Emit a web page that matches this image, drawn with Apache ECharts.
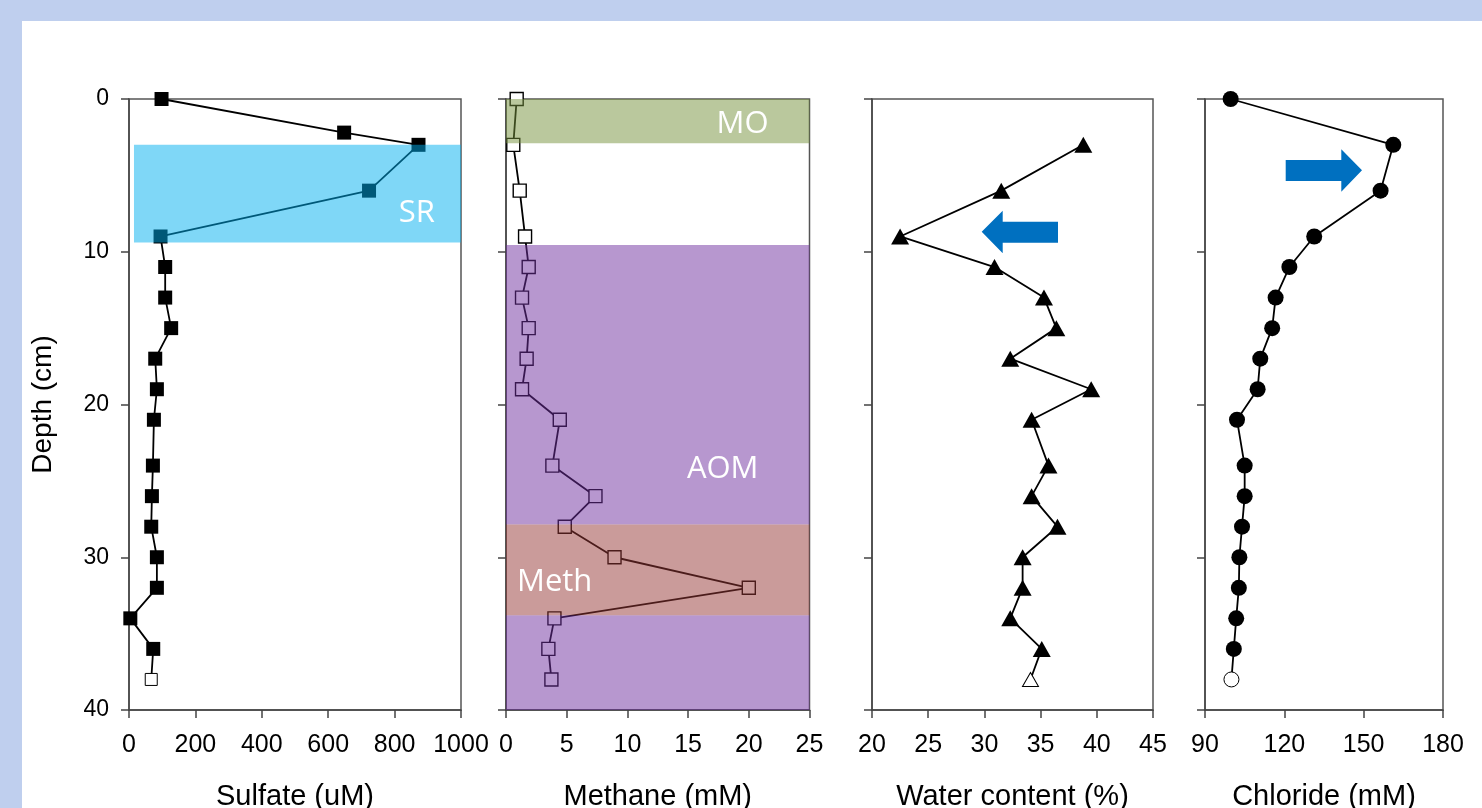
<!DOCTYPE html>
<html>
	<head>
		<meta charset="utf-8">
		<title>Depth profiles</title>
		<script src="https://cdn.jsdelivr.net/npm/echarts@6/dist/echarts.min.js"></script>
		<style>
			body { margin: 0; background: #bfcfee; width: 1482px; height: 808px; overflow: hidden; }
			#main { position: absolute; left: 22px; top: 21px; width: 1460px; height: 787px; background: #fff; }
		</style>
	</head>
	<body>
		<div id="main"></div>
		<script type="text/javascript">
			// depth (cm) of each sample
			var depthSulfate = [0, 2.2, 3, 6, 9, 11, 13, 15, 17, 19, 21, 24, 26, 28, 30, 32, 34, 36, 38];
			var sulfate = [98, 648, 872, 723, 95, 109, 109, 127, 79, 84, 75, 72, 69, 67, 84, 84, 4, 73, 67];

			var depth = [0, 3, 6, 9, 11, 13, 15, 17, 19, 21, 24, 26, 28, 30, 32, 34, 36, 38];
			var methane = [0.88, 0.6, 1.13, 1.57, 1.87, 1.32, 1.87, 1.7, 1.32, 4.43, 3.82, 7.37, 4.84, 8.94, 20.0, 3.99, 3.49, 3.74];
			var chloride = [99.7, 161.2, 156.4, 131.3, 121.9, 116.7, 115.4, 110.9, 109.9, 102.1, 105, 105, 104, 103, 102.8, 101.8, 100.9, 100];

			var depthWater = [3, 6, 9, 11, 13, 15, 17, 19, 21, 24, 26, 28, 30, 32, 34, 36, 38];
			var water = [38.8, 31.5, 22.5, 30.9, 35.3, 36.4, 32.3, 39.5, 34.2, 35.7, 34.2, 36.5, 33.4, 33.4, 32.3, 35.1, 34.1];

			// axis ranges: [min, max, interval]
			var xRanges = [[0, 1000, 200], [0, 25, 5], [20, 45, 5], [90, 180, 30]];
			var xNames = ['Sulfate (uM)', 'Methane (mM)', 'Water content (%)', 'Chloride (mM)'];

			// zones: [panel, name, xFrom, xTo, depthFrom, depthTo, colour]
			var zones = [
				[0, 'SR', 15, 1000, 3, 9.4, '#00b0f0'],
				[1, 'MO', 0, 25, 0, 2.9, '#76923c'],
				[1, 'AOM', 0, 25, 9.55, 27.85, '#7030a0'],
				[1, '', 0, 25, 33.8, 40, '#7030a0'],
				[1, 'Meth', 0, 25, 27.85, 33.8, '#953735']
			];

			var myChart = echarts.init(document.getElementById('main'));

			function pairs(xs, ys) {
				return xs.map(function (v, i) { return [v, ys[i]]; });
			}
			// last sample (38 cm) drawn as an open symbol
			function openLast(data, size) {
				var last = data.length - 1;
				data[last] = {value: data[last], symbolSize: size, itemStyle: {color: '#fff', borderColor: '#000', borderWidth: 1}};
				return data;
			}

			var gridLeft = [107, 484, 850, 1183];
			var gridWidth = [332, 303.5, 281, 238];
			var grids = [], xAxes = [], yAxes = [];
			for (var i = 0; i < 4; i++) {
				grids.push({left: gridLeft[i], top: 78, width: gridWidth[i], height: 611, show: true,
					outerBoundsMode: 'none', containLabel: false,
					borderColor: '#555', borderWidth: 1.5, backgroundColor: 'transparent'});
				xAxes.push({
					gridIndex: i, type: 'value', position: 'bottom', min: xRanges[i][0], max: xRanges[i][1], interval: xRanges[i][2],
					name: xNames[i], nameLocation: 'middle', nameGap: 72,
					nameTextStyle: {fontFamily: 'Liberation Sans', fontSize: 29, color: '#000'},
					axisLine: {show: true, onZero: false, lineStyle: {color: '#444', width: 1.5}},
					axisTick: {show: true, length: 8, lineStyle: {color: '#444', width: 1.5}},
					axisLabel: {margin: 23, fontFamily: 'Liberation Sans', fontSize: 25, color: '#000',
						formatter: function (v) { return String(v); }},
					splitLine: {show: false}
				});
				yAxes.push({
					gridIndex: i, type: 'value', position: 'left', inverse: true, min: 0, max: 40, interval: 10,
					name: i === 0 ? 'Depth (cm)' : '', nameLocation: 'middle', nameGap: 72,
					nameTextStyle: {fontFamily: 'Liberation Sans', fontSize: 28, color: '#000'},
					axisLine: {show: true, onZero: false, lineStyle: {color: '#444', width: 1.5}},
					axisTick: {show: true, length: 8, lineStyle: {color: '#444', width: 1.5}},
					axisLabel: {show: i === 0, margin: 20, fontFamily: 'Liberation Sans', fontSize: 23, color: '#000'},
					splitLine: {show: false}
				});
			}

			var lineStyle = {color: '#000', width: 1.8};
			var series = [
				{type: 'line', xAxisIndex: 0, yAxisIndex: 0, data: openLast(pairs(sulfate, depthSulfate), 12),
					symbol: 'rect', symbolSize: 14, itemStyle: {color: '#000'}, lineStyle: lineStyle},
				{type: 'line', xAxisIndex: 1, yAxisIndex: 1, data: pairs(methane, depth),
					symbol: 'rect', symbolSize: 13, itemStyle: {color: '#fff', borderColor: '#000', borderWidth: 1.4}, lineStyle: lineStyle},
				{type: 'line', xAxisIndex: 2, yAxisIndex: 2, data: openLast(pairs(water, depthWater), [16, 14]),
					symbol: 'triangle', symbolSize: [18, 16], itemStyle: {color: '#000'}, lineStyle: lineStyle},
				{type: 'line', xAxisIndex: 3, yAxisIndex: 3, data: openLast(pairs(chloride, depth), 15),
					symbol: 'circle', symbolSize: 16, itemStyle: {color: '#000'}, lineStyle: lineStyle}
			];

			// translucent zones drawn over the profiles
			var zoneLabel = {
				SR: {position: 'insideRight', distance: 26, offset: [0, 19]},
				MO: {position: 'insideRight', distance: 41, offset: [0, 3]},
				AOM: {position: 'insideRight', distance: 51, offset: [0, 85]},
				Meth: {position: 'insideLeft', distance: 11, offset: [0, 12]}
			};
			for (var p = 0; p < 2; p++) {
				var areas = zones.filter(function (z) { return z[0] === p; }).map(function (z) {
					var lab = zoneLabel[z[1]] || {};
					return [{
						name: z[1], xAxis: z[2], yAxis: z[4],
						itemStyle: {color: z[6], opacity: 0.5},
						label: {show: !!z[1], position: lab.position, distance: lab.distance, offset: lab.offset,
							color: '#fff', fontFamily: 'Open Sans', fontSize: 31}
					}, {xAxis: z[3], yAxis: z[5]}];
				});
				series.push({type: 'line', xAxisIndex: p, yAxisIndex: p, data: [], z: 10, silent: true,
					markArea: {silent: true, z: 10, data: areas}});
			}

			// blue block arrows (annotations)
			var arrowLeft = [[981.7, 231.7], [1002.7, 210.7], [1002.7, 221.7], [1058, 221.7], [1058, 242.7], [1002.7, 242.7], [1002.7, 253.3]];
			var arrowRight = [[1285.7, 160], [1341.3, 160], [1341.3, 149.3], [1362, 170.3], [1341.3, 191.7], [1341.3, 181], [1285.7, 181]];
			function shift(pts) { return pts.map(function (q) { return [q[0] - 22, q[1] - 21]; }); }

			var option = {
				animation: false,
				grid: grids,
				xAxis: xAxes,
				yAxis: yAxes,
				series: series,
				graphic: [
					{type: 'polygon', shape: {points: shift(arrowLeft)}, style: {fill: '#0070c0'}, z: 20},
					{type: 'polygon', shape: {points: shift(arrowRight)}, style: {fill: '#0070c0'}, z: 20}
				]
			};
			myChart.setOption(option);
		</script>
	</body>
</html>
